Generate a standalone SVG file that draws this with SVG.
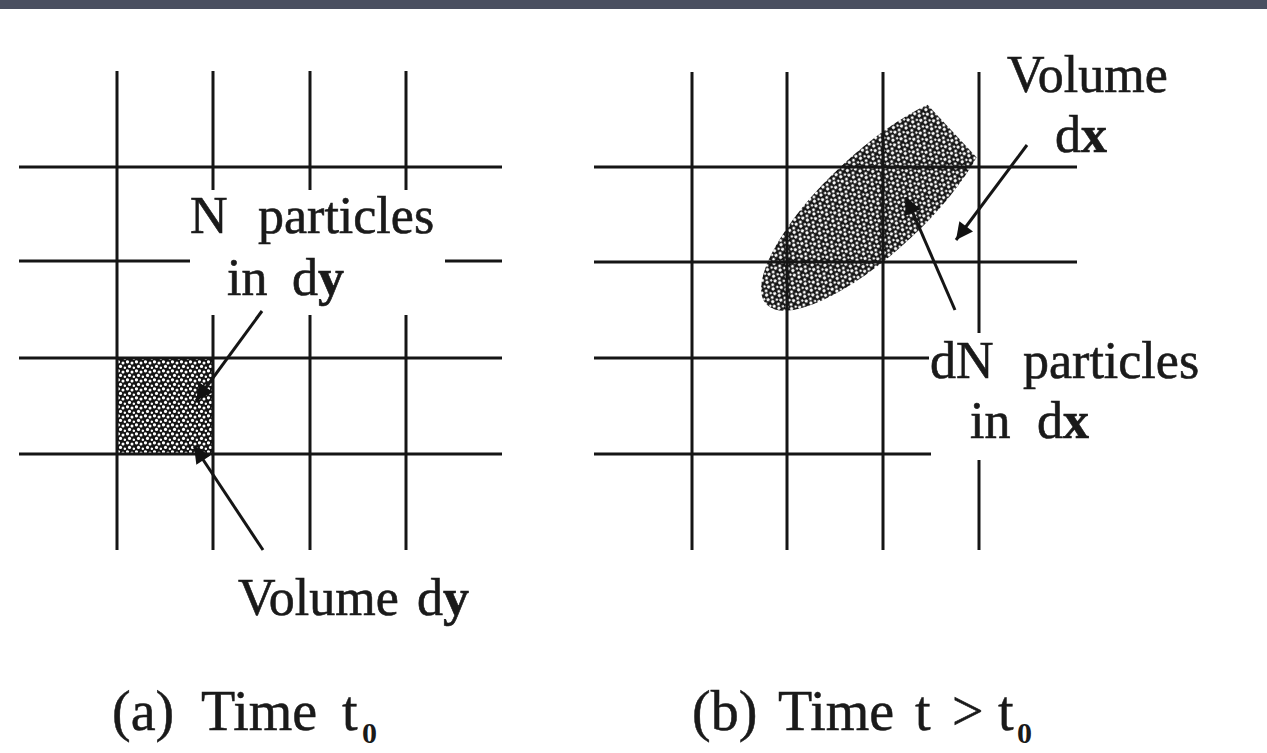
<svg xmlns="http://www.w3.org/2000/svg" width="1267" height="753" viewBox="0 0 1267 753">
<defs>
<style>
.g{stroke:#151515;stroke-width:3;fill:none;stroke-linecap:butt}
.a{stroke:#151515;stroke-width:3;fill:none}
.t{font-family:"Liberation Serif","Times New Roman",serif;font-size:52px;fill:#1a1a1a;stroke:#1a1a1a;stroke-width:0.6}
.b{font-weight:bold}
.c{font-family:"Liberation Serif","Times New Roman",serif;font-size:56px;fill:#1a1a1a;stroke:#1a1a1a;stroke-width:0.5}
.s{font-family:"Liberation Serif","Times New Roman",serif;font-size:30px;font-weight:bold;fill:#1a1a1a}
</style>
<pattern id="stip" width="9" height="9" patternUnits="userSpaceOnUse">
<rect width="9" height="9" fill="#151515"/>
<circle cx="1.5" cy="1.8" r="1.6" fill="#fff"/>
<circle cx="6" cy="3" r="1.5" fill="#fff"/>
<circle cx="3.5" cy="6.4" r="1.6" fill="#fff"/>
<circle cx="7.9" cy="7.7" r="1.3" fill="#fff"/>
</pattern>
<marker id="ah" viewBox="0 0 10 10" refX="10" refY="5" markerWidth="24" markerHeight="17" markerUnits="userSpaceOnUse" orient="auto">
<path d="M0,0 L10,5 L0,10 Z" fill="#111"/>
</marker>
<clipPath id="clipR"><rect x="600" y="60" width="380" height="300"/></clipPath>
</defs>
<rect width="1267" height="753" fill="#ffffff"/>
<rect x="0" y="0" width="1267" height="9" fill="#4a4f60"/>

<g id="panel-a">
<rect id="cell-dy" x="117" y="358" width="96" height="96" fill="url(#stip)"/>
<g id="grid-a" class="g">
<line x1="19" y1="167" x2="502" y2="167"/>
<line x1="19" y1="261" x2="190" y2="261"/>
<line x1="445" y1="261" x2="502" y2="261"/>
<line x1="19" y1="358" x2="502" y2="358"/>
<line x1="19" y1="454" x2="502" y2="454"/>
<line x1="117" y1="71" x2="117" y2="550"/>
<line x1="213" y1="71" x2="213" y2="190"/>
<line x1="213" y1="315" x2="213" y2="550"/>
<line x1="310" y1="71" x2="310" y2="190"/>
<line x1="310" y1="315" x2="310" y2="550"/>
<line x1="406" y1="71" x2="406" y2="190"/>
<line x1="406" y1="315" x2="406" y2="550"/>
</g>
<g id="label-a1" class="t">
<text x="190" y="233">N</text>
<text x="258" y="233">particles</text>
<text x="227" y="295">in</text>
<text x="292" y="295">d<tspan class="b">y</tspan></text>
</g>
<g id="label-a2" class="t">
<text x="238" y="615">Volume</text>
<text x="417" y="615">d<tspan class="b">y</tspan></text>
</g>
</g>

<g id="panel-b">
<ellipse id="cloud" cx="876" cy="202" rx="150" ry="50" transform="rotate(-43 876 202)" fill="url(#stip)" clip-path="url(#clipR)"/>
<g id="grid-b" class="g">
<line x1="594" y1="167" x2="1077" y2="167"/>
<line x1="594" y1="262" x2="1077" y2="262"/>
<line x1="594" y1="358" x2="929" y2="358"/>
<line x1="594" y1="454" x2="931" y2="454"/>
<line x1="692" y1="72" x2="692" y2="550"/>
<line x1="787" y1="72" x2="787" y2="550"/>
<line x1="883" y1="72" x2="883" y2="550"/>
<line x1="979" y1="72" x2="979" y2="333"/>
<line x1="979" y1="460" x2="979" y2="550"/>
</g>
<g id="label-b1" class="t">
<text x="1007" y="92">Volume</text>
<text x="1055" y="152">d<tspan class="b">x</tspan></text>
</g>
<g id="label-b2" class="t">
<text x="930" y="378">dN</text>
<text x="1023" y="378">particles</text>
<text x="970" y="438">in</text>
<text x="1037" y="438">d<tspan class="b">x</tspan></text>
</g>
</g>

<g id="connectors" class="a">
<line x1="262" y1="311" x2="196" y2="401" marker-end="url(#ah)"/>
<line x1="263" y1="550" x2="194" y2="446" marker-end="url(#ah)"/>
<line x1="1027" y1="145" x2="956" y2="240" marker-end="url(#ah)"/>
<line x1="955" y1="310" x2="906" y2="197" marker-end="url(#ah)"/>
</g>

<g id="caption-a">
<text class="c" x="112" y="730">(a)</text>
<text class="c" x="201" y="730">Time</text>
<text class="c" x="342" y="730">t</text>
<text class="s" x="362" y="743">0</text>
</g>
<g id="caption-b">
<text class="c" x="692" y="730">(b)</text>
<text class="c" x="778" y="730">Time</text>
<text class="c" x="915" y="730">t</text>
<text class="c" x="952" y="730">&gt;</text>
<text class="c" x="998" y="730">t</text>
<text class="s" x="1017" y="743">0</text>
</g>
</svg>
